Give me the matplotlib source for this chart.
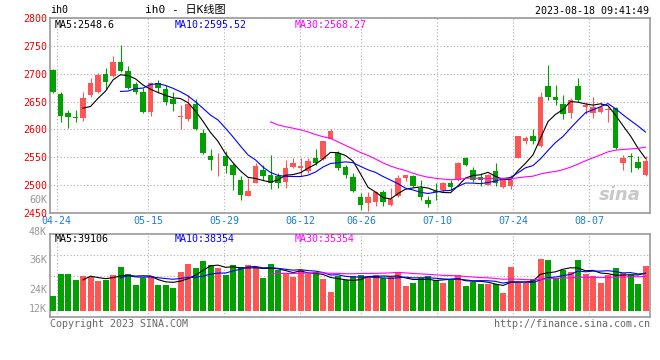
"""plot.py

ih0 daily K-line chart with volume panel (Sina style).
"""

import matplotlib

matplotlib.use("Agg")
# flake8: noqa: E402
import matplotlib.pyplot as plt
import matplotlib.transforms as mtransforms
import numpy as np
import pandas as pd

# Daily OHLC, 2023-04-24 .. 2023-08-18 (80 sessions)
opens = [2707, 2664, 2630, 2623, 2620, 2661, 2668, 2700, 2696, 2721,
         2705, 2682, 2667, 2631, 2683, 2672, 2655, 2622, 2619, 2646,
         2594, 2552, 2543, 2553, 2537, 2510, 2480, 2504, 2528, 2519,
         2516, 2505, 2533, 2531, 2525, 2549, 2547, 2583, 2558, 2532,
         2514, 2478, 2468, 2470, 2488, 2465, 2480, 2512, 2516, 2494,
         2474, 2490, 2491, 2504, 2509, 2548, 2528, 2514, 2501, 2526,
         2497, 2498, 2549, 2580, 2589, 2570, 2678, 2658, 2646, 2630,
         2678, 2641, 2630, 2631, 2635, 2638, 2539, 2553, 2541, 2519]
highs = [2708, 2667, 2635, 2634, 2668, 2692, 2701, 2710, 2731, 2752,
         2714, 2686, 2674, 2686, 2689, 2680, 2668, 2643, 2662, 2655,
         2601, 2564, 2558, 2561, 2540, 2516, 2513, 2540, 2537, 2555,
         2522, 2546, 2549, 2549, 2549, 2564, 2580, 2600, 2561, 2537,
         2522, 2486, 2488, 2489, 2492, 2495, 2519, 2519, 2519, 2509,
         2480, 2503, 2506, 2510, 2541, 2551, 2533, 2522, 2520, 2539,
         2513, 2518, 2589, 2589, 2600, 2668, 2716, 2680, 2661, 2656,
         2692, 2650, 2659, 2650, 2641, 2641, 2555, 2558, 2553, 2553]
lows = [2666, 2614, 2602, 2613, 2616, 2659, 2665, 2673, 2695, 2703,
        2672, 2664, 2630, 2624, 2665, 2643, 2633, 2600, 2616, 2599,
        2556, 2527, 2516, 2521, 2491, 2474, 2480, 2503, 2510, 2493,
        2495, 2495, 2531, 2516, 2522, 2537, 2546, 2582, 2527, 2512,
        2488, 2455, 2454, 2462, 2462, 2463, 2479, 2507, 2497, 2473,
        2461, 2473, 2488, 2492, 2508, 2534, 2506, 2498, 2500, 2498,
        2495, 2493, 2548, 2573, 2573, 2569, 2653, 2644, 2619, 2621,
        2650, 2628, 2621, 2630, 2613, 2564, 2527, 2523, 2529, 2517]
closes = [2668, 2624, 2622, 2620, 2657, 2683, 2697, 2686, 2721, 2704,
          2675, 2668, 2631, 2683, 2675, 2649, 2646, 2624, 2646, 2600,
          2557, 2546, 2544, 2535, 2519, 2483, 2489, 2534, 2517, 2504,
          2503, 2531, 2540, 2534, 2544, 2539, 2579, 2598, 2531, 2519,
          2489, 2464, 2478, 2488, 2470, 2476, 2512, 2518, 2499, 2479,
          2466, 2487, 2503, 2497, 2540, 2537, 2510, 2509, 2519, 2504,
          2510, 2509, 2588, 2585, 2580, 2659, 2659, 2652, 2628, 2653,
          2652, 2644, 2641, 2640, 2636, 2567, 2549, 2550, 2530, 2544]
volumes = [15500, 38000, 38000, 31800, 36200, 34600, 31100, 32100, 37000, 45200,
           38000, 26600, 33800, 36200, 26600, 26600, 23500, 40400, 48600, 44500,
           51400, 47300, 44200, 37300, 47300, 45200, 47300, 45200, 33800, 48300,
           42400, 38000, 34900, 42400, 38000, 39700, 32800, 19400, 36200, 32100,
           36200, 37000, 35600, 37000, 33800, 34600, 39000, 25600, 28700, 33800,
           36200, 32100, 28700, 32100, 37000, 25600, 29700, 27600, 27600, 27600,
           18300, 45200, 28700, 28700, 32800, 53500, 52500, 33800, 42100, 40400,
           52500, 38000, 35600, 28700, 37000, 44200, 39000, 37300, 27600, 46300]

date_labels = ["04-24", "05-15", "05-29", "06-12", "06-26", "07-10", "07-24", "08-07"]
date_index = [0, 12, 22, 32, 40, 50, 60, 70]
price_ticks = [2450, 2500, 2550, 2600, 2650, 2700, 2750, 2800]
price_ma_text = ["MA5:2548.6", "MA10:2595.52", "MA30:2568.27"]
vol_ma_text = ["MA5:39106", "MA10:38354", "MA30:35354"]
vol_labels = ["48K", "36K", "24K", "12K"]

MONO = ["DejaVu Sans Mono", "Noto Sans CJK SC"]
FS = 7.2
RED = "#ff5555"
GREEN = "#00a000"
MA_COLORS = ["black", "#0000ff", "#ff00ff"]
FRAME = "#999999"
GRID = "#b0b0b0"

plt.rcParams["font.family"] = MONO

n = len(closes)
x = np.arange(n)
o = np.array(opens, dtype=float)
c = np.array(closes, dtype=float)
up = c >= o
cols = np.where(up, RED, GREEN)

# Grid labels sit slightly right of the candle centre, drifting with time
date_pos = [d + 0.5 + 0.014 * d for d in date_index]

fig = plt.figure(figsize=(6.6, 3.6), dpi=100)
ax = fig.add_axes([50 / 660, 1 - 213 / 360, 600 / 660, 195 / 360])
axv = fig.add_axes([50 / 660, 1 - 317 / 360, 600 / 660, 83 / 360])

for a in (ax, axv):
    a.set_xlim(-0.4, n - 0.4)
    for s in a.spines.values():
        s.set_color(FRAME)
        s.set_linewidth(1.2)
    a.set_xticks(date_pos)
    a.tick_params(length=0)
    a.grid(True, color=GRID, linestyle=(0, (1, 2)), linewidth=0.8)
    a.set_axisbelow(True)

# Price panel
ax.vlines(x, lows, highs, colors=cols, linewidth=0.8, zorder=2)
body = np.maximum(np.abs(c - o), 0.6)
ax.bar(x, body, bottom=np.minimum(o, c), width=0.78, color=cols,
       linewidth=0, zorder=3)
for win, col in zip((5, 10, 30), MA_COLORS):
    ax.plot(x, pd.Series(c).rolling(win).mean(), color=col, linewidth=0.8, zorder=4)

ax.set_ylim(2450, 2800)
ax.set_yticks(price_ticks)
ax.set_yticklabels([str(t) for t in price_ticks], color="#ee0000", fontsize=FS)
ax.set_xticklabels(date_labels, color="#1a7fd4", fontsize=FS)
ax.tick_params(axis="y", pad=2)
ax.tick_params(axis="x", pad=2.5)

for txt, col, xp in zip(price_ma_text, MA_COLORS, (55, 175, 295)):
    ax.text((xp - 50) / 600, 0.966, txt, color=col, fontsize=FS,
            transform=ax.transAxes, va="center", ha="left")

ytrans = mtransforms.blended_transform_factory(ax.transAxes, ax.transData)
ax.text(-0.005, 2474, "60K", color="#999999", fontsize=FS, ha="right",
        va="center", transform=ytrans)

# Sina watermark
ax.text(0.985, 0.09, "sina", color="#c8c8c8", fontsize=13, fontweight="bold",
        fontstyle="italic", family="DejaVu Sans", ha="right", va="center",
        transform=ax.transAxes, zorder=1)

# Volume panel
axv.bar(x, volumes, width=0.8, color=cols, linewidth=0, zorder=3)
vser = pd.Series(volumes, dtype=float)
for win, col in zip((5, 10, 30), MA_COLORS):
    axv.plot(x, vser.rolling(win).mean(), color=col, linewidth=0.8, zorder=4)
vmin, vmax = -6500, 79400
axv.set_ylim(vmin, vmax)
axv.set_yticks(np.linspace(vmin, vmax, 5)[1:4])
axv.set_yticklabels([])
axv.set_xticklabels([])

for txt, col, xp in zip(vol_ma_text, MA_COLORS, (55, 175, 295)):
    axv.text((xp - 50) / 600, 0.94, txt, color=col, fontsize=FS,
             transform=axv.transAxes, va="center", ha="left")
for txt, yf in zip(vol_labels, (1.03, 0.69, 0.33, 0.095)):
    axv.text(-0.005, yf, txt, color="#999999", fontsize=FS, ha="right",
             va="center", transform=axv.transAxes)

# Header and footer
fig.text(50 / 660, 1 - 10 / 360, "ih0", fontsize=FS, color="black", va="center")
fig.text(185 / 660, 1 - 10 / 360, "ih0 - 日K线图", fontsize=8, color="black",
         va="center", ha="center", family=MONO)
fig.text(649 / 660, 1 - 11 / 360, "2023-08-18 09:41:49", fontsize=FS,
         color="black", va="center", ha="right")
fig.text(50 / 660, 1 - 324 / 360, "Copyright 2023 SINA.COM", fontsize=FS,
         color="#666666", va="center", ha="left")
fig.text(650 / 660, 1 - 324 / 360, "http://finance.sina.com.cn", fontsize=FS,
         color="#666666", va="center", ha="right")

fig.savefig("out.png", dpi=100)
plt.close(fig)
